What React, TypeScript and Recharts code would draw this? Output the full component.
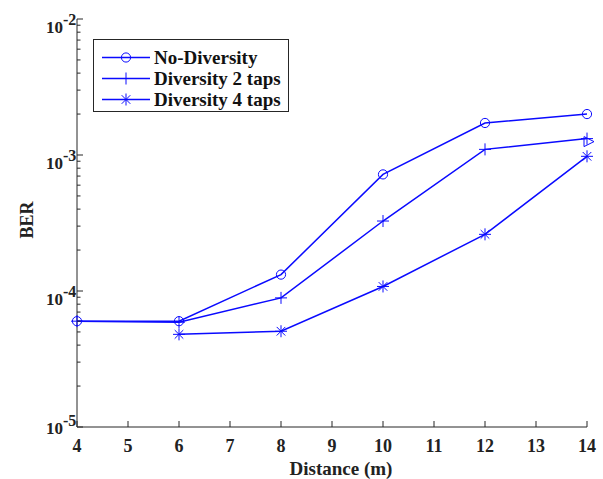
import { LineChart, Line, XAxis, YAxis, Legend, Label } from "recharts";

const distance = [4, 6, 8, 10, 12, 14];
const noDiversity = [6.0e-5, 6.0e-5, 1.32e-4, 7.2e-4, 1.72e-3, 2.0e-3];
const diversity2 = [6.0e-5, 5.9e-5, 8.9e-5, 3.27e-4, 1.1e-3, 1.32e-3];
const diversity4 = [null, 4.8e-5, 5.06e-5, 1.08e-4, 2.61e-4, 9.78e-4];

const xTicks = [4, 5, 6, 7, 8, 9, 10, 11, 12, 13, 14];
const yMajor = [1e-5, 1e-4, 1e-3, 1e-2];
const yMajorExp = ["-5", "-4", "-3", "-2"];
const yMinor = [2, 3, 4, 5, 6, 7, 8, 9].flatMap((m) => [m * 1e-5, m * 1e-4, m * 1e-3]);

const data = distance.map((d, i) => ({
  d,
  noDiv: noDiversity[i],
  div2: diversity2[i],
  div4: diversity4[i],
}));

const BLUE = "#0a0aff";
const AXIS = "#262626";
const FONT = "'Liberation Serif', 'Times New Roman', serif";

const majorIndex = (v: number) => yMajor.findIndex((m) => Math.abs(m - v) / m < 1e-6);

function LeftTick(props: any) {
  const { x, y, payload } = props;
  const idx = majorIndex(payload.value);
  const major = idx >= 0;
  // matlab nudges the lowest label up so it stays clear of the x labels
  const lift = idx === 0 ? 7 : 0;
  return (
    <g>
      <line x1={x} x2={x + (major ? 6 : 3.5)} y1={y} y2={y} stroke={AXIS} strokeWidth={1} />
      {major && (
        <text fontFamily={FONT} fontWeight="bold" fill="#222">
          <tspan x={x - 14} y={y + 14 - lift} fontSize={17} textAnchor="end">10</tspan>
          <tspan x={x - 14} y={y + 6 - lift} fontSize={16} textAnchor="start">{yMajorExp[idx]}</tspan>
        </text>
      )}
    </g>
  );
}

function RightTick(props: any) {
  const { x, y, payload } = props;
  const major = majorIndex(payload.value) >= 0;
  return <line x1={x} x2={x - (major ? 6 : 3.5)} y1={y} y2={y} stroke={AXIS} strokeWidth={1} />;
}

function BottomTick(props: any) {
  const { x, y, payload } = props;
  return (
    <g>
      <line x1={x} x2={x} y1={y} y2={y - 6} stroke={AXIS} strokeWidth={1} />
      <text x={x} y={y + 25} textAnchor="middle" fontFamily={FONT} fontWeight="bold" fontSize={18} fill="#222">
        {payload.value}
      </text>
    </g>
  );
}

function TopTick(props: any) {
  const { x, y } = props;
  return <line x1={x} x2={x} y1={y} y2={y + 6} stroke={AXIS} strokeWidth={1} />;
}

function Circle(props: any) {
  const { cx, cy, index } = props;
  if (cx == null || cy == null) return <g key={index} />;
  return <circle key={index} cx={cx} cy={cy} r={4.6} fill="none" stroke={BLUE} strokeWidth={1} />;
}

function Plus(props: any) {
  const { cx, cy, index } = props;
  if (cx == null || cy == null) return <g key={index} />;
  const s = 6;
  return (
    <g key={index} stroke={BLUE} strokeWidth={1}>
      <line x1={cx - s} x2={cx + s} y1={cy} y2={cy} />
      <line x1={cx} x2={cx} y1={cy - s} y2={cy + s} />
      {index === distance.length - 1 && (
        <path d={`M${cx - 3},${cy - 2} L${cx + 7},${cy + 3} L${cx - 3},${cy + 8} Z`} fill="none" />
      )}
    </g>
  );
}

function Star(props: any) {
  const { cx, cy, index } = props;
  if (cx == null || cy == null) return <g key={index} />;
  const s = 6;
  const d = 4.3;
  return (
    <g key={index} stroke={BLUE} strokeWidth={1}>
      <line x1={cx - s} x2={cx + s} y1={cy} y2={cy} />
      <line x1={cx} x2={cx} y1={cy - s} y2={cy + s} />
      <line x1={cx - d} x2={cx + d} y1={cy - d} y2={cy + d} />
      <line x1={cx - d} x2={cx + d} y1={cy + d} y2={cy - d} />
    </g>
  );
}

const legendItems = [
  { name: "No-Diversity", Marker: Circle },
  { name: "Diversity 2 taps", Marker: Plus },
  { name: "Diversity 4 taps", Marker: Star },
];

function LegendBox() {
  return (
    <div
      style={{
        width: 194,
        height: 64,
        border: `1px solid ${AXIS}`,
        background: "#fff",
        boxSizing: "content-box",
        paddingTop: 7,
      }}
    >
      {legendItems.map(({ name, Marker }) => (
        <div key={name} style={{ display: "flex", alignItems: "center", height: 21 }}>
          <svg width={60} height={21} style={{ display: "block", flex: "none" }}>
            <line x1={8} x2={56} y1={10.5} y2={10.5} stroke={BLUE} strokeWidth={1.5} />
            <Marker cx={32} cy={10.5} index={0} />
          </svg>
          <span
            style={{
              fontFamily: FONT,
              fontWeight: "bold",
              fontSize: 19,
              color: "#111",
              lineHeight: "21px",
              whiteSpace: "nowrap",
            }}
          >
            {name}
          </span>
        </div>
      ))}
    </div>
  );
}

export default function App() {
  return (
    <div style={{ position: "absolute", left: 0, top: 0, width: 603, height: 479, background: "#fff" }}>
      <LineChart width={603} height={479} data={data} margin={{ top: 19, right: 16, bottom: 0, left: 0 }}>
        <XAxis
          xAxisId="b"
          dataKey="d"
          type="number"
          domain={[4, 14]}
          ticks={xTicks}
          height={52}
          tickSize={0}
          tickMargin={0}
          tickLine={false}
          stroke={AXIS}
          tick={<BottomTick />}
          interval={0}
        >
          <Label
            content={() => (
              <text x={341} y={475} textAnchor="middle" fontFamily={FONT} fontWeight="bold" fontSize={19} fill="#222">
                Distance (m)
              </text>
            )}
          />
        </XAxis>
        <XAxis
          xAxisId="t"
          orientation="top"
          dataKey="d"
          type="number"
          domain={[4, 14]}
          ticks={xTicks}
          height={0}
          tickSize={0}
          tickMargin={0}
          tickLine={false}
          stroke={AXIS}
          tick={<TopTick />}
          interval={0}
        />
        <YAxis
          yAxisId="l"
          scale="log"
          type="number"
          domain={[1e-5, 1e-2]}
          allowDataOverflow
          ticks={[...yMajor, ...yMinor]}
          width={77}
          tickSize={0}
          tickMargin={0}
          tickLine={false}
          stroke={AXIS}
          tick={<LeftTick />}
          interval={0}
        >
          <Label
            content={() => (
              <text
                x={0}
                y={0}
                transform="translate(33,220) rotate(-90)"
                textAnchor="middle"
                fontFamily={FONT}
                fontWeight="bold"
                fontSize={18}
                fill="#222"
              >
                BER
              </text>
            )}
          />
        </YAxis>
        <YAxis
          yAxisId="r"
          orientation="right"
          scale="log"
          type="number"
          domain={[1e-5, 1e-2]}
          allowDataOverflow
          ticks={[...yMajor, ...yMinor]}
          width={0}
          tickSize={0}
          tickMargin={0}
          tickLine={false}
          stroke={AXIS}
          tick={<RightTick />}
          interval={0}
        />
        <Legend
          content={() => <LegendBox />}
          layout="vertical"
          align="center"
          verticalAlign="middle"
          wrapperStyle={{ left: 93, top: 39, width: 196 }}
        />
        <Line
          xAxisId="b"
          yAxisId="l"
          dataKey="noDiv"
          stroke={BLUE}
          strokeWidth={1.5}
          dot={<Circle />}
          isAnimationActive={false}
        />
        <Line
          xAxisId="b"
          yAxisId="l"
          dataKey="div2"
          stroke={BLUE}
          strokeWidth={1.5}
          dot={<Plus />}
          isAnimationActive={false}
        />
        <Line
          xAxisId="b"
          yAxisId="l"
          dataKey="div4"
          stroke={BLUE}
          strokeWidth={1.5}
          dot={<Star />}
          isAnimationActive={false}
        />
      </LineChart>
    </div>
  );
}
